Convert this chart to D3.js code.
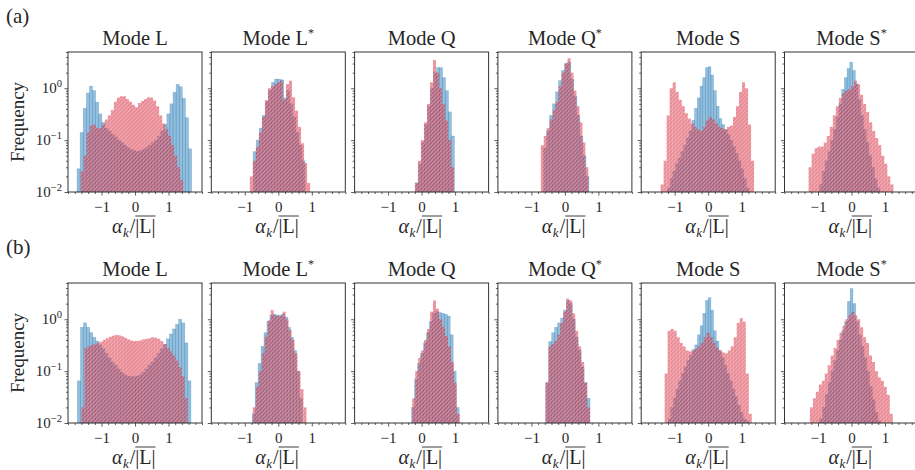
<!DOCTYPE html>
<html>
<head>
<meta charset="utf-8">
<script src="https://cdn.jsdelivr.net/npm/d3@7"></script>
<style>
body { margin: 0; background: #fff; }
svg text { font-family: "Liberation Serif", "DejaVu Serif", serif; fill: #262626; }
</style>
</head>
<body>
<svg id="chart" width="915" height="470"></svg>
<script>
var modes = ["L", "L", "Q", "Q", "S", "S"];
var starred = [false, true, false, true, false, true];
var rowLabels = ["(a)", "(b)"];
var xMajor = [-1, 0, 1];
var yMajor = [0.01, 0.1, 1];
var yExp = ["−2", "−1", "0"];

// histogram ranges [min, max] and bin heights, row (a)
var blueRangeA = [[-1.73, 1.69], [-0.75, 0.8], [-0.18, 0.98], [-0.64, 0.72], [-1.22, 1.22], [-0.95, 0.85]];
var blueA = [
	[0.028,0.14,0.41,0.81,1.1,0.9,0.54,0.32,0.22,0.17,0.15,0.13,0.115,0.1,0.09,0.08,0.072,0.066,0.062,0.06,0.062,0.066,0.072,0.08,0.09,0.1,0.12,0.15,0.2,0.32,0.5,0.84,1.19,1.07,0.64,0.27,0.068],
	[0.06,0.1,0.17,0.3,0.55,0.9,1.3,1.5,1.5,1.45,0.65,0.9,0.5,0.28,0.14,0.08,0.04],
	[0.015,0.035,0.09,0.2,0.45,1.0,2.0,2.5,2.5,1.6,0.9,0.35,0.12],
	[0.07,0.15,0.3,0.5,0.85,1.4,2.2,3.0,3.2,1.5,0.7,0.3,0.12,0.05,0.02],
	[0.012,0.018,0.025,0.035,0.045,0.06,0.08,0.11,0.15,0.24,0.41,0.65,1.1,1.6,2.5,2.6,1.8,0.9,0.45,0.26,0.2,0.16,0.13,0.1,0.075,0.055,0.04,0.028,0.018,0.012],
	[0.014,0.025,0.04,0.06,0.1,0.16,0.28,0.5,0.95,1.6,2.4,3.2,2.2,1.2,0.6,0.3,0.16,0.09,0.05,0.03,0.018,0.012]
];
var redRangeA = [[-1.62, 1.44], [-0.85, 0.95], [-0.2, 0.97], [-0.72, 0.7], [-1.42, 1.37], [-1.28, 1.25]];
var redA = [
	[0.025,0.05,0.14,0.19,0.2,0.17,0.17,0.2,0.25,0.3,0.38,0.55,0.66,0.7,0.7,0.62,0.55,0.48,0.43,0.52,0.57,0.62,0.67,0.66,0.58,0.45,0.3,0.21,0.16,0.12,0.08,0.05,0.03,0.017],
	[0.02,0.04,0.074,0.14,0.28,0.59,1.0,1.1,1.2,1.3,1.4,0.6,1.2,1.4,0.67,0.37,0.18,0.087,0.036,0.015],
	[0.015,0.04,0.1,0.22,0.5,1.3,3.5,2.0,1.0,0.5,0.24,0.1,0.03],
	[0.08,0.12,0.17,0.25,0.38,0.55,1.1,2.0,3.0,3.8,2.0,0.9,0.45,0.22,0.09,0.03],
	[0.014,0.04,0.3,1.0,1.3,0.85,0.6,0.45,0.33,0.26,0.21,0.18,0.16,0.15,0.18,0.24,0.28,0.25,0.21,0.18,0.17,0.16,0.18,0.19,0.28,0.45,0.85,1.3,1.0,0.2,0.04],
	[0.03,0.055,0.07,0.075,0.075,0.09,0.12,0.18,0.3,0.45,0.65,0.8,0.9,0.95,1.1,1.4,1.2,0.75,0.5,0.35,0.22,0.15,0.11,0.08,0.05,0.035,0.02,0.014]
];

// row (b)
var blueRangeB = [[-1.72, 1.67], [-0.78, 0.72], [-0.3, 1.12], [-0.57, 0.75], [-1.2, 1.2], [-0.95, 0.87]];
var blueB = [
	[0.065,0.7,0.85,0.7,0.55,0.45,0.38,0.32,0.27,0.22,0.18,0.15,0.13,0.11,0.095,0.085,0.08,0.078,0.078,0.08,0.085,0.095,0.11,0.13,0.15,0.18,0.22,0.27,0.33,0.42,0.52,0.65,0.8,1.0,0.85,0.35,0.065],
	[0.015,0.06,0.14,0.3,0.55,0.9,1.2,1.25,1.2,1.2,1.25,1.1,0.7,0.45,0.25,0.1,0.03],
	[0.02,0.07,0.14,0.22,0.35,0.55,0.9,1.3,1.4,1.35,1.3,1.25,1.15,0.5,0.1,0.02],
	[0.06,0.37,0.55,0.7,0.85,1.05,1.5,2.3,2.0,1.0,0.45,0.25,0.12,0.06,0.03],
	[0.012,0.02,0.03,0.045,0.065,0.09,0.12,0.16,0.2,0.26,0.32,0.5,0.75,1.3,2.3,2.6,1.5,0.6,0.38,0.25,0.18,0.13,0.09,0.065,0.045,0.032,0.022,0.016,0.012,0.011],
	[0.012,0.02,0.035,0.06,0.1,0.16,0.25,0.4,0.6,0.9,2.2,3.9,2.0,0.9,0.5,0.3,0.18,0.1,0.05,0.028,0.016,0.011]
];
var redRangeB = [[-1.6, 1.57], [-0.76, 0.84], [-0.28, 1.14], [-0.58, 0.75], [-1.3, 1.3], [-1.24, 1.23]];
var redB = [
	[0.02,0.28,0.3,0.32,0.33,0.35,0.37,0.4,0.43,0.46,0.48,0.5,0.49,0.47,0.44,0.41,0.39,0.38,0.38,0.39,0.41,0.42,0.43,0.45,0.44,0.42,0.38,0.33,0.28,0.24,0.2,0.16,0.12,0.08,0.03],
	[0.02,0.05,0.1,0.22,0.46,0.95,1.5,1.2,1.15,1.15,1.4,1.0,0.62,0.4,0.22,0.1,0.045,0.02],
	[0.03,0.1,0.18,0.25,0.4,0.65,1.4,2.3,1.6,1.0,0.72,0.48,0.3,0.15,0.06,0.015],
	[0.06,0.3,0.33,0.38,0.5,0.85,1.4,2.5,2.3,1.3,0.6,0.3,0.15,0.06,0.02],
	[0.09,0.6,0.65,0.6,0.45,0.35,0.3,0.25,0.24,0.25,0.27,0.3,0.35,0.45,0.55,0.45,0.35,0.28,0.25,0.23,0.22,0.25,0.3,0.45,0.85,1.05,0.9,0.09,0.015],
	[0.02,0.03,0.04,0.055,0.065,0.09,0.13,0.2,0.28,0.4,0.55,0.75,1.0,1.2,1.4,1.2,1.0,0.7,0.45,0.35,0.2,0.15,0.1,0.075,0.065,0.05,0.035,0.015]
];

var rows = [
	{blueRange: blueRangeA, blue: blueA, redRange: redRangeA, red: redA, top: 52},
	{blueRange: blueRangeB, blue: blueB, redRange: redRangeB, red: redB, top: 283}
];

var panelW = 134, panelH = 140, left0 = 68, step = 143.3;
var svg = d3.select("#chart");

// hatch used for the red histograms
var defs = svg.append("defs");
var pat = defs.append("pattern").attr("id", "hatch").attr("patternUnits", "userSpaceOnUse")
	.attr("width", 4).attr("height", 4);
pat.append("rect").attr("width", 4).attr("height", 4).attr("fill", "rgba(210,22,42,0.50)");
pat.append("path").attr("d", "M-1,1 l2,-2 M0,4 l4,-4 M3,5 l2,-2")
	.attr("stroke", "rgba(255,210,216,0.42)").attr("stroke-width", 1.1);

function toBins(range, vals) {
	var w = (range[1] - range[0]) / vals.length;
	return vals.map(function(v, i) {
		return {x0: range[0] + i * w, x1: range[0] + (i + 1) * w, v: v};
	});
}

function xLabel(g, cx, baseline) {
	var t = g.append("text").attr("y", baseline).attr("font-size", 20);
	t.append("tspan").attr("font-style", "italic").text("α");
	t.append("tspan").attr("font-style", "italic").attr("font-size", 13).attr("dy", 4).attr("dx", 0.5).text("k");
	t.append("tspan").attr("dy", -4).attr("dx", 1).text("/|L|");
	var len = t.node().getComputedTextLength();
	t.attr("x", cx - len / 2 - 2);
	var s = t.node().getStartPositionOfChar(3).x;
	var e = t.node().getEndPositionOfChar(5).x;
	g.append("line").attr("x1", s).attr("x2", e).attr("y1", baseline - 17).attr("y2", baseline - 17)
		.attr("stroke", "#262626").attr("stroke-width", 0.9);
}

rows.forEach(function(row, r) {
	var top = row.top, bottom = top + panelH;
	svg.append("text").attr("x", 6).attr("y", top - 29).attr("font-size", 21).text(rowLabels[r]);
	svg.append("text").attr("transform", "translate(24," + (top + panelH / 2) + ") rotate(-90)")
		.attr("text-anchor", "middle").attr("font-size", 19).text("Frequency");

	for (var i = 0; i < 6; ++i) {
		var left = left0 + i * step;
		var x = d3.scaleLinear().domain([-2, 2]).range([left, left + panelW]);
		var y = d3.scaleLog().domain([0.01, 5]).range([bottom, top]);
		var g = svg.append("g");

		var blue = toBins(row.blueRange[i], row.blue[i]);
		var red = toBins(row.redRange[i], row.red[i]);

		g.selectAll("rect.b").data(blue).enter().append("rect").attr("class", "b")
			.attr("x", function(d) { return x(d.x0); })
			.attr("width", function(d) { return x(d.x1) - x(d.x0); })
			.attr("y", function(d) { return y(d.v); })
			.attr("height", function(d) { return bottom - y(d.v); })
			.attr("fill", "rgba(31,119,180,0.48)")
			.attr("stroke", "rgba(31,119,180,0.35)").attr("stroke-width", 0.6);

		g.selectAll("rect.r").data(red).enter().append("rect").attr("class", "r")
			.attr("x", function(d) { return x(d.x0); })
			.attr("width", function(d) { return x(d.x1) - x(d.x0); })
			.attr("y", function(d) { return y(d.v); })
			.attr("height", function(d) { return bottom - y(d.v); })
			.attr("fill", "url(#hatch)");

		// x ticks
		var minor = d3.range(-20, 21, 2).map(function(k) { return k / 10; })
			.filter(function(v) { return xMajor.indexOf(v) < 0; });
		g.append("g").attr("transform", "translate(0," + bottom + ")")
			.call(d3.axisBottom(x).tickValues(minor).tickSize(2).tickFormat(""));
		var xa = g.append("g").attr("transform", "translate(0," + bottom + ")")
			.call(d3.axisBottom(x).tickValues(xMajor).tickSize(3.5).tickPadding(6)
				.tickFormat(function(d) { return d < 0 ? "−" + (-d) : d; }));
		xa.selectAll("text").attr("font-size", 15).attr("font-family", "Liberation Serif").attr("fill", "#262626");

		// y ticks (log)
		var yMinor = [];
		[0.01, 0.1, 1].forEach(function(dec) {
			for (var m = 2; m <= 9; ++m) if (dec * m <= 5) yMinor.push(dec * m);
		});
		g.append("g").attr("transform", "translate(" + left + ",0)")
			.call(d3.axisLeft(y).tickValues(yMinor).tickSize(2).tickFormat(""));
		g.append("g").attr("transform", "translate(" + left + ",0)")
			.call(d3.axisLeft(y).tickValues(yMajor).tickSize(3.5).tickFormat(""));
		g.selectAll(".domain").remove();
		g.selectAll(".tick line").attr("stroke", "#333").attr("stroke-width", 0.8);

		if (i === 0) {
			yMajor.forEach(function(v, k) {
				var t = g.append("text").attr("x", left - 6).attr("y", y(v) + 5)
					.attr("text-anchor", "end").attr("font-size", 15);
				t.append("tspan").text("10");
				t.append("tspan").attr("font-size", 10.5).attr("dy", -6).text(yExp[k]);
			});
		}

		// frame
		g.append("rect").attr("x", left).attr("y", top).attr("width", panelW).attr("height", panelH)
			.attr("fill", "none").attr("stroke", "#333").attr("stroke-width", 1);

		var title = g.append("text").attr("x", left + panelW / 2).attr("y", top - 7)
			.attr("text-anchor", "middle").attr("font-size", 20.5);
		title.append("tspan").text("Mode " + modes[i]);
		if (starred[i]) title.append("tspan").attr("font-size", 12).attr("dy", -8).text("*");

		xLabel(g, left + panelW / 2, bottom + 41);
	}
});
</script>
</body>
</html>
